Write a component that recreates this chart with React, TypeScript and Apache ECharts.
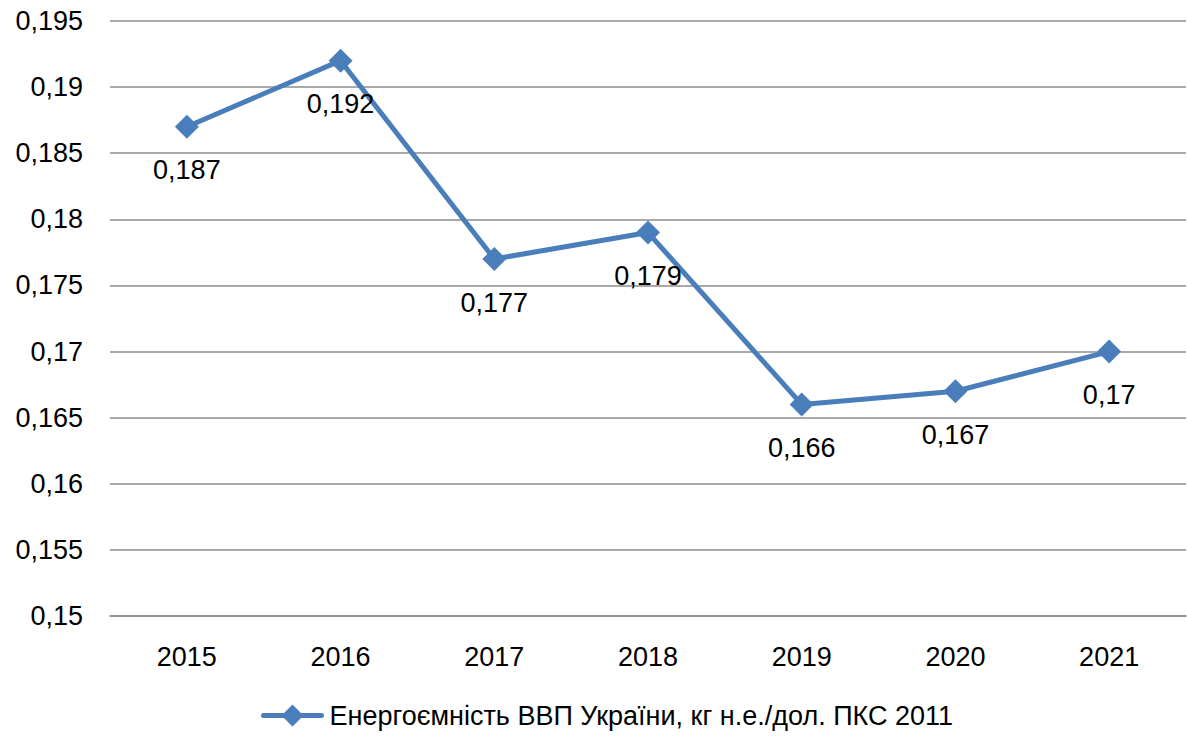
import React, { useEffect, useRef } from "react";
import * as echarts from "echarts";

const years = ["2015", "2016", "2017", "2018", "2019", "2020", "2021"];
const values = [0.187, 0.192, 0.177, 0.179, 0.166, 0.167, 0.17];
const seriesName = "Енергоємність ВВП України, кг н.е./дол. ПКС 2011";
const FONT = "Liberation Sans";
const LEGEND_ICON =
  "path://M3,8.5 L61,8.5 A2.5,2.5 0 0 1 61,13.5 L3,13.5 A2.5,2.5 0 0 1 3,8.5 Z M32,0 L43,11 L32,22 L21,11 Z";

export default function App() {
  const ref = useRef<HTMLDivElement>(null);
  useEffect(() => {
    if (!ref.current) return;
    const chart = echarts.init(ref.current, null, { renderer: "svg" });
    chart.setOption({
      animation: false,
      backgroundColor: "#ffffff",
      grid: { left: 110, right: 1, top: 21, bottom: 122 },
      legend: {
        bottom: 4,
        left: 256,
        itemWidth: 64,
        itemHeight: 22,
        itemGap: 4,
        textStyle: { fontFamily: FONT, fontSize: 27, color: "#000", padding: [0, 0, 0, 0] },
        data: [{ name: seriesName, icon: LEGEND_ICON }],
      },
      xAxis: {
        type: "category",
        data: years,
        boundaryGap: true,
        axisLine: { show: true, lineStyle: { color: "#8c8c8c", width: 1.5 } },
        axisTick: { show: false },
        axisLabel: { fontFamily: FONT, fontSize: 27, color: "#000", margin: 27 },
      },
      yAxis: {
        type: "value",
        min: 0.15,
        max: 0.195,
        interval: 0.005,
        axisLine: { show: false },
        axisTick: { show: false },
        splitLine: { lineStyle: { color: "#8c8c8c", width: 1.5 } },
        axisLabel: {
          fontFamily: FONT,
          fontSize: 27,
          color: "#000",
          margin: 27,
          formatter: (v: number) => String(Math.round(v * 1000) / 1000).replace(".", ","),
        },
      },
      series: [
        {
          name: seriesName,
          type: "line",
          data: values,
          symbol: "diamond",
          symbolSize: 24,
          lineStyle: { color: "#4a7ebb", width: 5 },
          itemStyle: { color: "#4a7ebb" },
          label: {
            show: true,
            position: "bottom",
            distance: 18,
            fontFamily: FONT,
            fontSize: 27,
            color: "#000",
            formatter: (p: any) => String(p.value).replace(".", ","),
          },
        },
      ],
    });
    return () => chart.dispose();
  }, []);
  return <div ref={ref} style={{ width: 1187, height: 738, position: "absolute", left: 0, top: 0 }} />;
}
